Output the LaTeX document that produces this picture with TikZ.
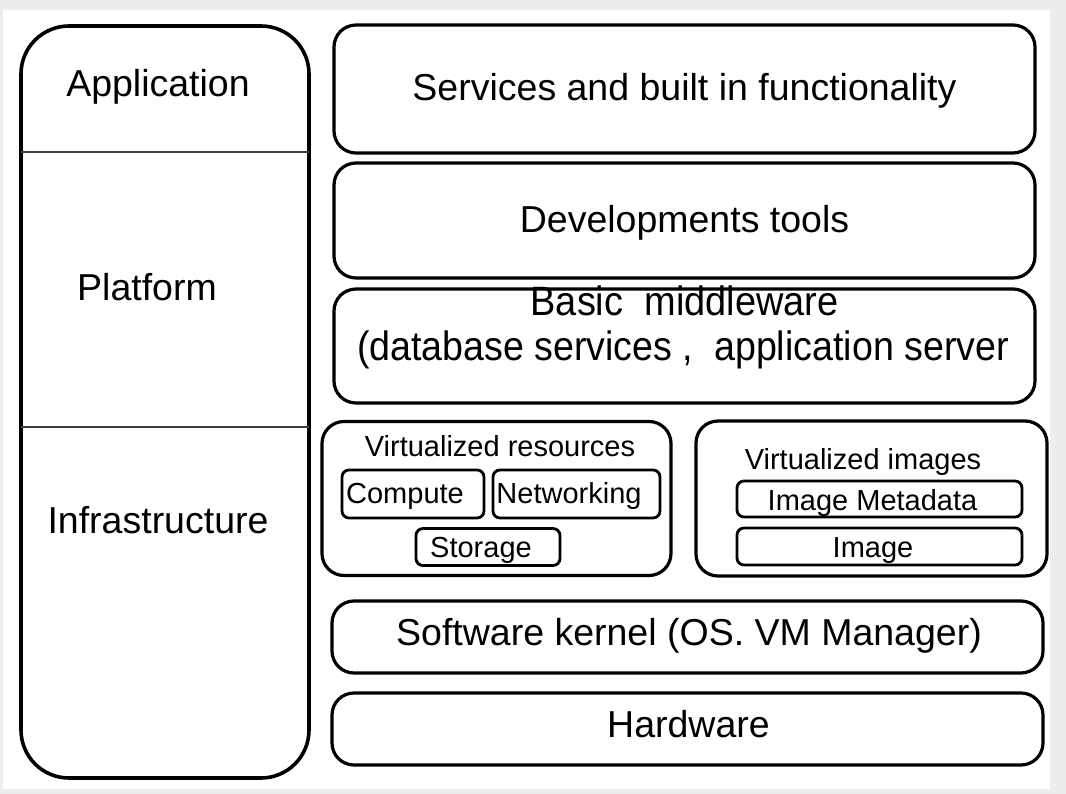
\documentclass[tikz,border=0pt]{standalone}
\usepackage{fontspec}
\setmainfont{Liberation Sans}
\begin{document}
\begin{tikzpicture}[x=1pt,y=-1pt,
  box/.style={draw=black, line width=3.2pt, rounded corners=22pt, inner sep=0pt, fill=white},
  sbox/.style={draw=black, line width=2.8pt, rounded corners=7pt, inner sep=0pt},
  big/.style={font=\fontsize{37.5}{44}\selectfont, inner sep=0pt, anchor=base},
  small/.style={font=\fontsize{29}{34}\selectfont, inner sep=0pt, anchor=base},
  divider/.style={draw=black!75, line width=1.4pt}]
\useasboundingbox (0,0) rectangle (1066,794);
\fill[black!7] (0,0) rectangle (1066,794);
\fill[white] (3,10) rectangle (1050,789);
% left column
\node[draw=black, line width=3.6pt, rounded corners=48pt, inner sep=0pt,
      minimum width=288pt, minimum height=752pt] (left) at (165,402) {};
\coordinate (d1l) at (21,152); \coordinate (d1r) at (309,152);
\coordinate (d2l) at (21,427); \coordinate (d2r) at (309,427);
\draw[divider] (d1l) -- (d1r);
\draw[divider] (d2l) -- (d2r);
\node[big] (app) at (158,97) {Application};
\node[big] (plat) at (147,301) {Platform};
\node[big] (infra) at (158,533) {Infrastructure};
% right stack
\node[box, minimum width=701pt, minimum height=128pt] (svc) at (684.5,89) {};
\node[big] (svct) at (684.5,101) {Services and built in functionality};
\node[box, minimum width=701pt, minimum height=115pt] (dev) at (684.5,220.5) {};
\node[big] (devt) at (684.5,233) {Developments tools};
\node[box, minimum width=701pt, minimum height=114pt] (mid) at (684.5,346) {};
\node[inner sep=0pt, anchor=base, font=\fontsize{41}{48}\selectfont] (midt1) at (684.5,316) {\scalebox{0.925}[1]{Basic\ \ middleware}};
\node[inner sep=0pt, anchor=base, font=\fontsize{41}{48}\selectfont] (midt2) at (683,360) {\scalebox{0.917}[1]{(database services ,\ \ application server}};
% virtualized resources
\node[box, minimum width=349pt, minimum height=154pt] (vres) at (496.5,498.5) {};
\node[small] (vrest) at (500,456) {Virtualized resources};
\node[sbox, minimum width=142pt, minimum height=48pt] (comp) at (413,494) {};
\node[small] (compt) at (405,503) {Compute};
\node[sbox, minimum width=167pt, minimum height=48pt] (net) at (576.5,494) {};
\node[small] (nett) at (569,503) {Networking};
\node[sbox, minimum width=144pt, minimum height=37pt] (stor) at (488,547) {};
\node[small] (stort) at (481,557) {Storage};
% virtualized images
\node[box, minimum width=351pt, minimum height=155pt] (vimg) at (871.5,498.5) {};
\node[small] (vimgt) at (863,469) {Virtualized images};
\node[sbox, minimum width=285pt, minimum height=36pt] (meta) at (879.5,499) {};
\node[small] (metat) at (872.5,510) {Image Metadata};
\node[sbox, minimum width=285pt, minimum height=37pt] (img) at (879.5,546.5) {};
\node[small] (imgt) at (873,557) {Image};
% kernel and hardware
\node[box, minimum width=711pt, minimum height=72pt] (kern) at (687.5,637) {};
\node[big] (kernt) at (689,645) {Software kernel (OS. VM Manager)};
\node[box, minimum width=711pt, minimum height=72pt] (hw) at (687.5,729) {};
\node[big] (hwt) at (688.5,737) {Hardware};
\end{tikzpicture}
\end{document}
